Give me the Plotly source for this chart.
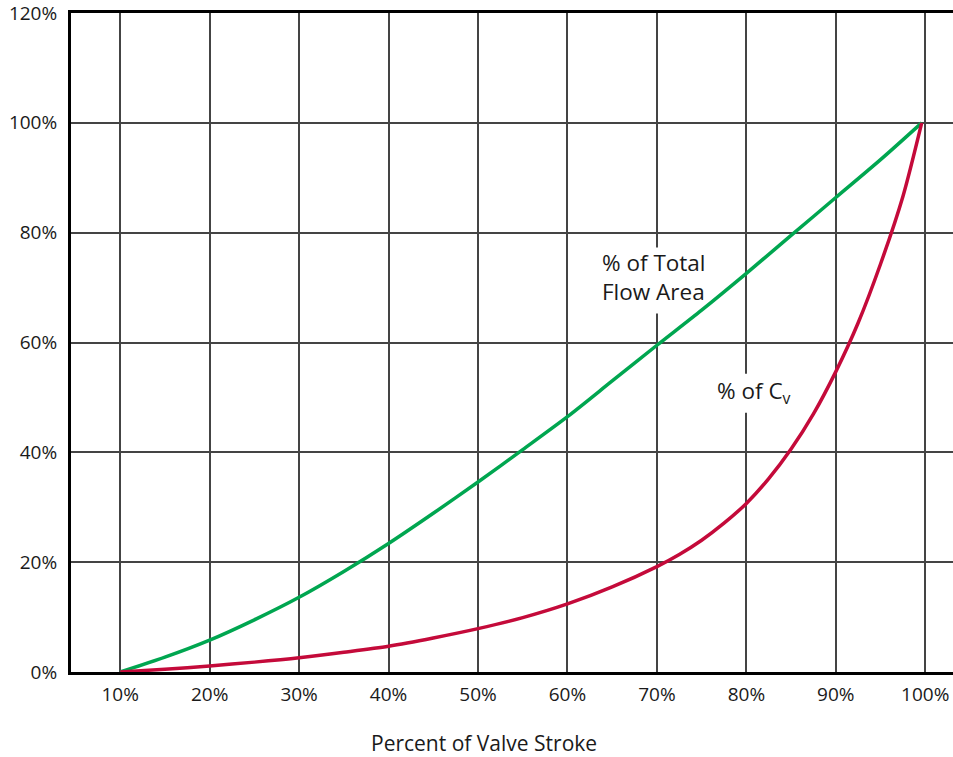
import plotly.graph_objects as go

# Data (percent values)
stroke_area = [10, 15, 20, 25, 30, 35, 40, 45, 50, 55, 60, 65, 70, 75, 80, 85, 90, 95, 99.6]
flow_area = [0, 2.7, 5.8, 9.5, 13.6, 18.3, 23.4, 28.9, 34.6, 40.5, 46.5, 53.0, 59.5, 65.9, 72.6, 79.5, 86.4, 93.3, 100]

stroke_cv = [10, 15, 20, 25, 30, 35, 40, 45, 50, 55, 60, 65, 70, 72.5, 75, 77.5, 80, 82.5, 85, 87.5, 90, 92.5, 95, 97.5, 99.6]
cv = [0, 0.5, 1.1, 1.8, 2.6, 3.6, 4.7, 6.2, 7.9, 9.9, 12.4, 15.5, 19.2, 21.4, 24.0, 27.1, 30.7, 35.2, 40.6, 47.0, 54.7, 63.6, 74.3, 86.6, 100]

x_ticks = [10, 20, 30, 40, 50, 60, 70, 80, 90, 100]
y_ticks = [0, 20, 40, 60, 80, 100, 120]

GREEN = "#00a650"
RED = "#c40a3a"
FONT = "Open Sans"
TXT = "#1a1a1a"

fig = go.Figure()
fig.add_trace(go.Scatter(x=stroke_area, y=flow_area, mode="lines",
                         line=dict(color=GREEN, width=3.5, shape="spline", smoothing=0.8),
                         name="% of Total Flow Area", hoverinfo="skip"))
fig.add_trace(go.Scatter(x=stroke_cv, y=cv, mode="lines",
                         line=dict(color=RED, width=3.5, shape="spline", smoothing=0.8),
                         name="% of Cv", hoverinfo="skip"))

# white backgrounds behind the curve labels (between gridlines and traces)
fig.add_shape(type="rect", x0=63.5, x1=75.7, y0=65.3, y1=77.3, xref="x", yref="y",
              fillcolor="white", line=dict(width=0), layer="between")
fig.add_shape(type="rect", x0=76.3, x1=85.4, y0=47.2, y1=54.3, xref="x", yref="y",
              fillcolor="white", line=dict(width=0), layer="between")

fig.add_annotation(x=69.7, y=71.9, text="% of Total<br>Flow Area", showarrow=False,
                   font=dict(family=FONT, size=22.5, color=TXT), align="left")
fig.add_annotation(x=80.9, y=50.9, text="% of C<sub>v</sub>", showarrow=False,
                   font=dict(family=FONT, size=22.5, color=TXT))
fig.add_annotation(x=50.7, xref="x", y=-0.108, yref="paper", yanchor="middle",
                   text="Percent of Valve Stroke", showarrow=False,
                   font=dict(family=FONT, size=21, color=TXT))

fig.update_xaxes(range=[4.5, 103.1], tickvals=x_ticks,
                 ticktext=[f"{v}%" for v in x_ticks],
                 showgrid=True, gridcolor="#444444", gridwidth=1.6,
                 showline=True, linecolor="black", linewidth=3, mirror=True,
                 ticks="", zeroline=False, ticklabelstandoff=3,
                 ticklabeloverflow="allow",
                 tickfont=dict(family=FONT, size=19, color=TXT))
fig.update_yaxes(range=[0, 120], tickvals=y_ticks,
                 ticktext=[f"{v}%" for v in y_ticks],
                 showgrid=True, gridcolor="#444444", gridwidth=1.6,
                 showline=True, linecolor="black", linewidth=3,
                 ticks="", zeroline=False, ticklabelstandoff=7,
                 ticklabeloverflow="allow",
                 tickfont=dict(family=FONT, size=19, color=TXT))

fig.update_layout(width=953, height=757, showlegend=False,
                  margin=dict(l=71, r=0, t=9, b=85),
                  plot_bgcolor="white", paper_bgcolor="white")

fig.write_html("out.html", config={"displayModeBar": False},
               post_script="document.body.style.margin='0';")
